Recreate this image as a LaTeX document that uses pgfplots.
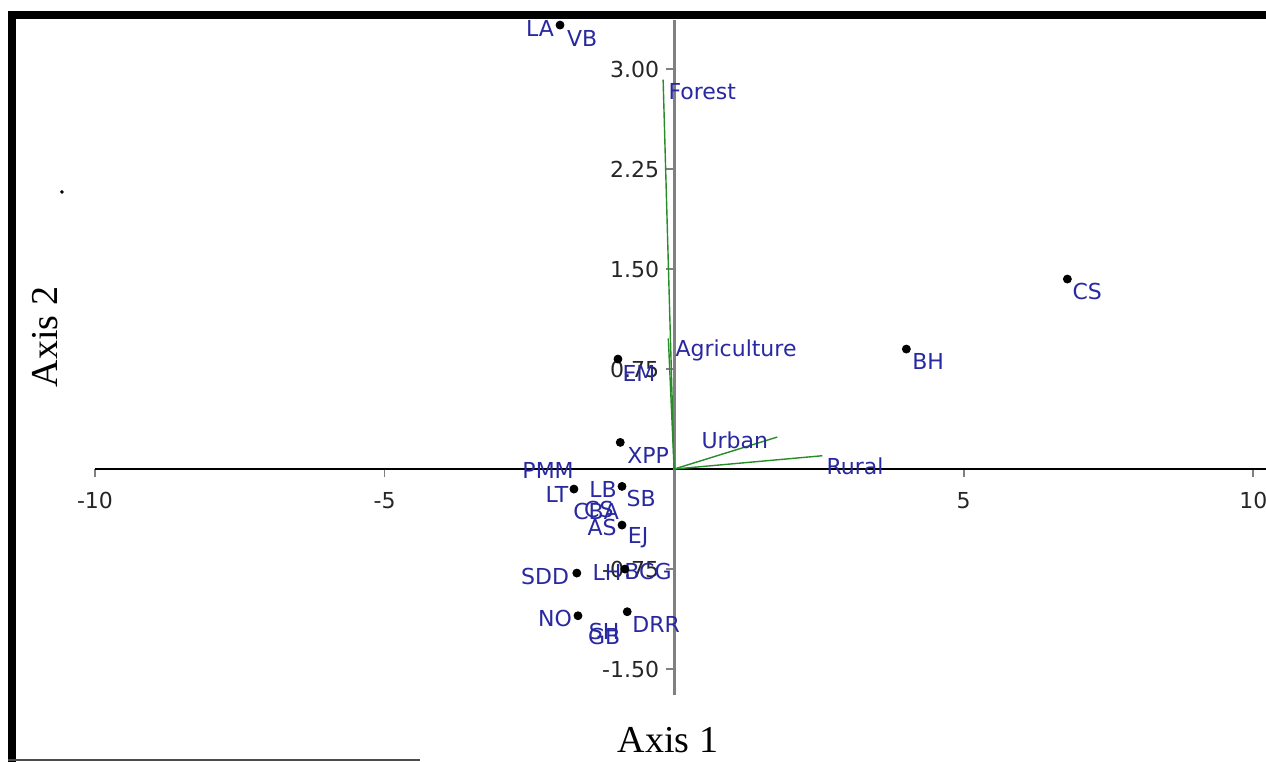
\documentclass[border=0pt]{standalone}
\usepackage{fontspec}
\setmainfont{DejaVu Sans}
\newfontfamily\seriffont{Liberation Serif}
\usepackage{pgfplots}
\pgfplotsset{compat=1.18}
\definecolor{lbl}{RGB}{40,40,160}
\definecolor{vec}{RGB}{40,140,40}
\begin{document}
\begin{tikzpicture}
\begin{axis}[
 x=28.95pt, y=66.65pt,
 xmin=-10, xmax=10.22, ymin=-1.695, ymax=3.368,
 axis lines=middle,
 axis line style={-},
 x axis line style={black, line width=0.6pt},
 y axis line style={gray, line width=1.5pt},
 xtick={-10,-5,5,10}, xticklabels={-10,-5,5,10},
 ytick={-1.5,-0.75,0.75,1.5,2.25,3}, yticklabels={-1.50,-0.75,0.75,1.50,2.25,3.00},
 tick align=outside, major tick length=4pt,
 tick style={gray, line width=0.8pt},
 ticklabel style={font=\fontsize{11}{13}\selectfont, text=black!85},
 xticklabel style={yshift=-4pt},
 clip=false,
]
% vectors
\addplot[vec, line width=0.7pt] coordinates {(0,0) (-0.19,2.92)};
\addplot[vec, line width=0.7pt] coordinates {(0,0) (-0.10,0.98)};
\addplot[vec, line width=0.7pt] coordinates {(0,0) (1.78,0.24)};
\addplot[vec, line width=0.7pt] coordinates {(0,0) (2.56,0.10)};
% sites
\addplot[only marks, mark=*, mark size=2pt, black] coordinates {
(-1.97,3.33) (6.79,1.425) (4.01,0.90) (-0.97,0.825) (-0.93,0.20)
(-1.73,-0.15) (-0.90,-0.13) (-0.90,-0.42) (-1.68,-0.78) (-0.85,-0.75)
(-1.66,-1.10) (-0.81,-1.07)};
\addplot[only marks, mark=*, mark size=0.7pt, black] coordinates {(-10.57,2.078)};
% labels
\begin{scope}[every node/.style={text=lbl, inner sep=0pt, font=\fontsize{11}{13}\selectfont}]
\node at (axis cs:-2.314,3.308) {LA};
\node at (axis cs:-1.589,3.233) {VB};
\node[anchor=west] at (axis cs:-0.104,2.828) {Forest};
\node at (axis cs:7.133,1.335) {CS};
\node at (axis cs:4.387,0.810) {BH};
\node[anchor=west] at (axis cs:0.017,0.893) {Agriculture};
\node[anchor=west] at (axis cs:-0.898,0.720) {EM};
\node at (axis cs:-0.449,0.105) {XPP};
\node[anchor=west] at (axis cs:0.466,0.218) {Urban};
\node[anchor=west] at (axis cs:2.625,0.0225) {Rural};
\node at (axis cs:-2.176,-0.0075) {PMM};
\node at (axis cs:-2.021,-0.188) {LT};
\node at (axis cs:-1.226,-0.150) {LB};
\node at (axis cs:-0.570,-0.218) {SB};
\node at (axis cs:-1.347,-0.315) {CBA};
\node at (axis cs:-1.30,-0.300) {CS};
\node at (axis cs:-1.244,-0.435) {AS};
\node at (axis cs:-0.622,-0.518) {EJ};
\node at (axis cs:-2.228,-0.803) {SDD};
\node at (axis cs:-1.157,-0.773) {LH};
\node[anchor=west] at (axis cs:-0.864,-0.765) {BCG};
\node at (axis cs:-2.055,-1.118) {NO};
\node at (axis cs:-1.209,-1.215) {SH};
\node at (axis cs:-1.209,-1.253) {GB};
\node at (axis cs:-0.311,-1.163) {DRR};
\end{scope}
% axis titles
\node[font=\seriffont\fontsize{19}{22}\selectfont] at (axis cs:-0.104,-2.033) {Axis 1};
\node[font=\seriffont\fontsize{19}{22}\selectfont, rotate=90] at (axis cs:-10.864,0.99) {Axis 2};
% frame
\draw[black, line width=4pt] (axis cs:-11.434,-2.25) -- (axis cs:-11.434,3.406) -- (axis cs:10.3,3.406);
\draw[black!70, line width=0.8pt] (axis cs:-11.5,-2.183) -- (axis cs:-4.387,-2.183);
\coordinate (bl) at (axis cs:-11.64,-2.19);
\coordinate (tr) at (axis cs:10.22,3.518);
\end{axis}
\pgfresetboundingbox
\useasboundingbox (bl) rectangle (tr);
\end{tikzpicture}
\end{document}
